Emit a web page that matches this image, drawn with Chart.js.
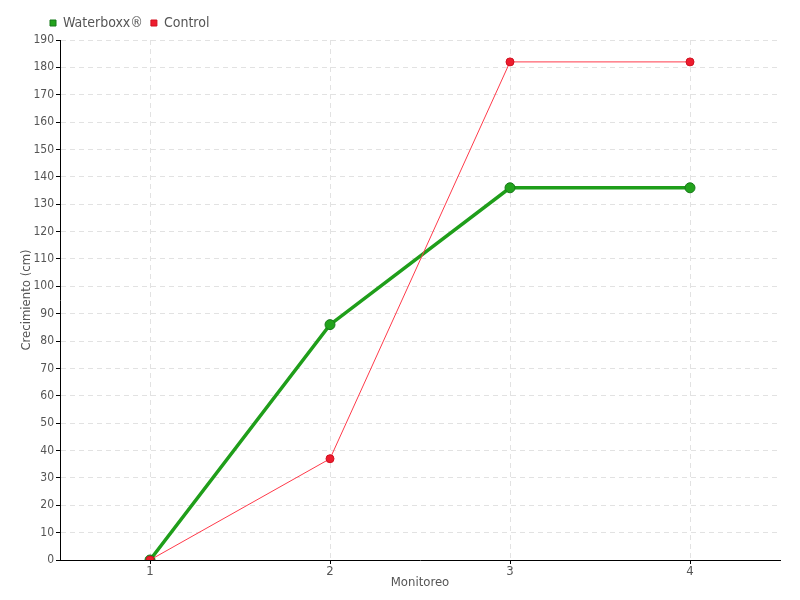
<!DOCTYPE html>
<html>
<head>
<meta charset="utf-8">
<script src="https://cdn.jsdelivr.net/npm/chart.js@4"></script>
<style>
  html, body { margin: 0; padding: 0; background: #fff; }
  #wrap { width: 800px; height: 600px; }
</style>
</head>
<body>
<div id="wrap"><canvas id="growthChart" width="800" height="600"></canvas></div>
<script>
// Crecimiento por monitoreo
const monitoreos = ['1', '2', '3', '4'];
const waterboxx = [0, 86, 136, 136];
const control = [0, 37, 182, 182];
const yTicks = { min: 0, max: 190, step: 10 };

const fontFamily = "'DejaVu Sans Condensed', 'Liberation Sans Narrow', sans-serif";
const textColor = '#555';

// mueve la leyenda a la derecha, alineada como en el original
const legendShift = {
    id: 'legendShift',
    afterLayout(chart) {
        if (chart.legend) chart.legend.left = 42;
    }
};

const ctx = document.getElementById('growthChart');

new Chart(ctx, {
    type: 'line',
    data: {
        labels: monitoreos,
        datasets: [{
            label: 'Waterboxx®',
            data: waterboxx,
            order: 1,
            borderColor: '#1f9e1a',
            backgroundColor: '#1f9e1a',
            borderWidth: 3.5,
            pointRadius: 5,
            pointBackgroundColor: '#22a31c',
            pointBorderColor: '#17791a',
            pointBorderWidth: 1,
            tension: 0
        }, {
            label: 'Control',
            data: control,
            order: 0,
            borderColor: '#ff3a4a',
            backgroundColor: '#ee1c2e',
            borderWidth: 1,
            pointRadius: 4,
            pointBackgroundColor: '#ee1c2e',
            pointBorderColor: '#d0101f',
            pointBorderWidth: 1,
            tension: 0
        }]
    },
    plugins: [legendShift],
    options: {
        responsive: false,
        animation: false,
        layout: { padding: { top: 8, right: 20, left: 0, bottom: 0 } },
        plugins: {
            tooltip: { enabled: false },
            legend: {
                display: true,
                position: 'top',
                align: 'start',
                labels: {
                    usePointStyle: true,
                    pointStyle: 'rect',
                    boxWidth: 6,
                    boxHeight: 6,
                    padding: 8,
                    color: textColor,
                    font: { family: fontFamily, size: 14 },
                    sort: (a, b) => a.datasetIndex - b.datasetIndex
                }
            }
        },
        scales: {
            x: {
                offset: true,
                border: { color: '#000', width: 1, dash: [5, 4] },
                grid: {
                    offset: false,
                    color: '#e2e2e2',
                    drawTicks: true,
                    tickLength: 4,
                    tickColor: '#000',
                    tickBorderDash: []
                },
                ticks: { color: textColor, padding: 0, font: { family: fontFamily, size: 13 } },
                title: {
                    display: true,
                    text: 'Monitoreo',
                    color: textColor,
                    padding: { top: 0, bottom: 10 },
                    font: { family: fontFamily, size: 13 }
                },
                afterFit: scale => { scale.height = 40; }
            },
            y: {
                min: yTicks.min,
                max: yTicks.max,
                border: { color: '#000', width: 1, dash: [5, 4] },
                grid: {
                    color: '#e2e2e2',
                    drawTicks: true,
                    tickLength: 4,
                    tickColor: '#000',
                    tickBorderDash: []
                },
                ticks: {
                    stepSize: yTicks.step,
                    color: textColor,
                    padding: 2,
                    font: { family: fontFamily, size: 12 }
                },
                title: {
                    display: true,
                    text: 'Crecimiento (cm)',
                    color: textColor,
                    padding: { top: 19, bottom: 0 },
                    font: { family: fontFamily, size: 13 }
                },
                afterFit: scale => { scale.width = 60; }
            }
        }
    }
});
</script>
</body>
</html>
